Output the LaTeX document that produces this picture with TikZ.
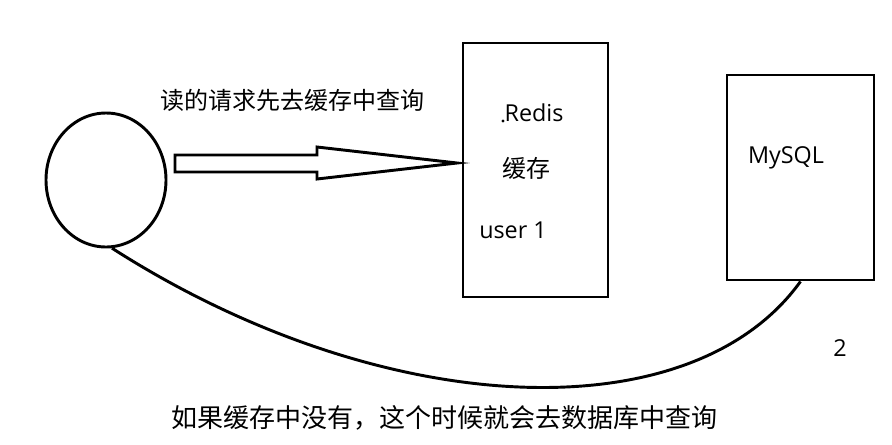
\documentclass[tikz,border=0pt]{standalone}
\usepackage{fontspec}
\setmainfont{Open Sans}
\newfontfamily\cjk{Noto Sans CJK SC}
\usetikzlibrary{shapes.geometric}
\tikzset{
  pen/.style={line width=2.2pt},
  box/.style={pen,draw,rectangle,inner sep=0pt},
  lbl/.style={inner sep=0pt,font=\fontsize{17.5}{20}\selectfont},
  cjklbl/.style={inner sep=0pt,font=\cjk\fontsize{18}{20}\selectfont}
}
\begin{document}
\begin{tikzpicture}[x=0.75pt,y=-0.75pt]
    \useasboundingbox (0,0) rectangle (892,444);
    \node[pen,draw,ellipse,minimum width=90pt,minimum height=100.5pt] (client) at (106,180) {};
    \node[box,minimum width=108.75pt,minimum height=190.5pt] (redis) at (535.5,170) {};
    \node[box,minimum width=110.25pt,minimum height=153.75pt] (mysql) at (800.5,177.5) {};
    % hollow block arrow
    \draw[pen,line join=miter] (175,155)--(317,155)--(317,147)--(457,163)--(317,179)--(317,172)--(175,172)--cycle;
    \node[cjklbl] (ask) at (292,100) {读的请求先去缓存中查询};
    \node[lbl] (rname) at (534,113) {Redis};
    \fill (503,121) circle (1.3pt);
    \node[cjklbl] (rcache) at (526,168) {缓存};
    \node[lbl] (ruser) at (513,230) {user 1};
    \node[lbl] (mname) at (786,158) {MySQL};
    \node[lbl] (step2) at (840,348) {2};
    \draw[pen] (client.-85) .. controls (380,420) and (690,435) .. (mysql.south);
    \node[cjklbl,font=\cjk\fontsize{19.5}{22}\selectfont] (miss) at (444,418) {如果缓存中没有，这个时候就会去数据库中查询};
\end{tikzpicture}
\end{document}
